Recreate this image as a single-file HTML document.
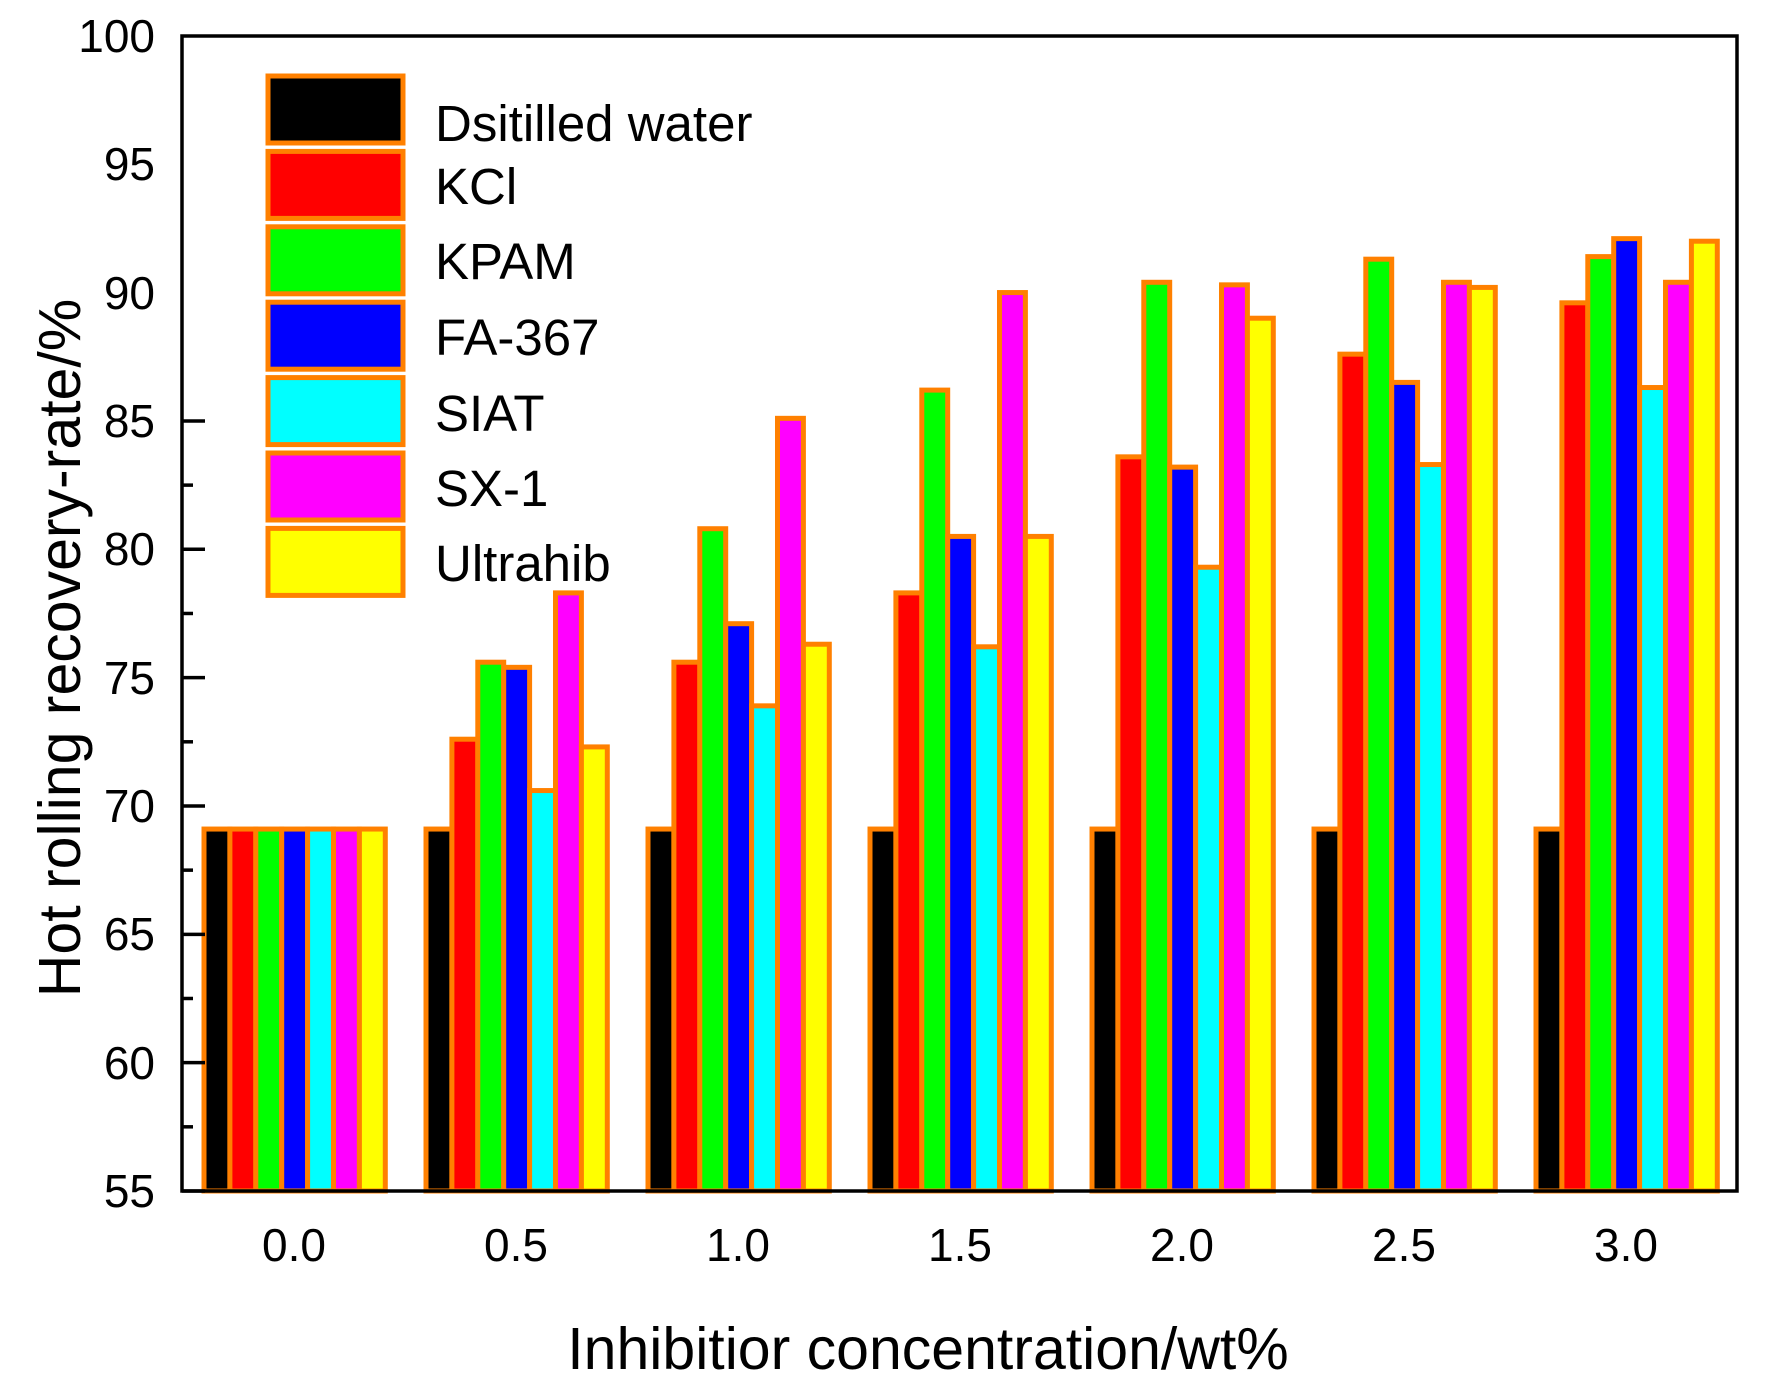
<!DOCTYPE html>
<html><head><meta charset="utf-8"><style>body{margin:0;background:#fff}svg{display:block}text{font-family:"Liberation Sans",sans-serif;fill:#000}</style></head>
<body>
<svg id="s" width="1769" height="1393" viewBox="0 0 1769 1393" xmlns="http://www.w3.org/2000/svg">
<g id="bars"></g>
<rect x="182" y="36" width="1555" height="1155" fill="none" stroke="#000" stroke-width="3.5"/>
<g id="ticks" stroke="#000" stroke-width="3.5"></g>
<g font-size="46" text-anchor="end">
<text x="155" y="52">100</text><text x="155" y="180">95</text><text x="155" y="309">90</text>
<text x="155" y="437">85</text><text x="155" y="565">80</text><text x="155" y="694">75</text>
<text x="155" y="822">70</text><text x="155" y="950">65</text><text x="155" y="1079">60</text>
<text x="155" y="1207">55</text>
</g>
<g font-size="46" text-anchor="middle">
<text x="294" y="1261">0.0</text><text x="516" y="1261">0.5</text><text x="738" y="1261">1.0</text>
<text x="960" y="1261">1.5</text><text x="1182" y="1261">2.0</text><text x="1404" y="1261">2.5</text>
<text x="1626" y="1261">3.0</text>
</g>
<text x="928" y="1369" font-size="59" text-anchor="middle">Inhibitior concentration/wt%</text>
<text transform="translate(80,648) rotate(-90)" font-size="59" text-anchor="middle">Hot rolling recovery-rate/%</text>
<g id="leg" stroke="#ff8000" stroke-width="5"></g>
<g font-size="51">
<text x="435" y="141">Dsitilled water</text><text x="435" y="204">KCl</text>
<text x="435" y="279">KPAM</text><text x="435" y="355">FA-367</text>
<text x="435" y="431">SIAT</text><text x="435" y="506">SX-1</text>
<text x="435" y="581">Ultrahib</text>
</g>
</svg>
<script>
var cols=["#000","#f00","#0f0","#00f","#0ff","#f0f","#ff0"];
var d=[[69.1,69.1,69.1,69.1,69.1,69.1,69.1],[69.1,72.6,75.6,75.4,70.6,78.3,72.3],[69.1,75.6,80.8,77.1,73.9,85.1,76.3],[69.1,78.3,86.2,80.5,76.2,90.0,80.5],[69.1,83.6,90.4,83.2,79.3,90.3,89.0],[69.1,87.6,91.3,86.5,83.3,90.4,90.2],[69.1,89.6,91.4,92.1,86.3,90.4,92.0]];
function y(v){return 1191-(v-55)*25.67;}
var h="",bw=25.9;
for(var g=0;g<7;g++)for(var k=0;k<7;k++){var x=204+g*222+k*bw,t=y(d[g][k]);
h+='<rect x="'+x+'" y="'+t+'" width="'+bw+'" height="'+(1191-t)+'" fill="'+cols[k]+'" stroke="#ff8000" stroke-width="5"/>';}
document.getElementById("bars").innerHTML=h;
var tk="";for(var i=0;i<=12;i++){var yy=1191-i*64.17;tk+='<line x1="182" x2="'+(i%2?193:205)+'" y1="'+yy+'" y2="'+yy+'"/>';}
document.getElementById("ticks").innerHTML=tk;
var lg="";for(var i=0;i<7;i++){lg+='<rect x="268" y="'+(76+i*75.4)+'" width="135" height="67" fill="'+cols[i]+'"/>';}
document.getElementById("leg").innerHTML=lg;
</script>
</body></html>
